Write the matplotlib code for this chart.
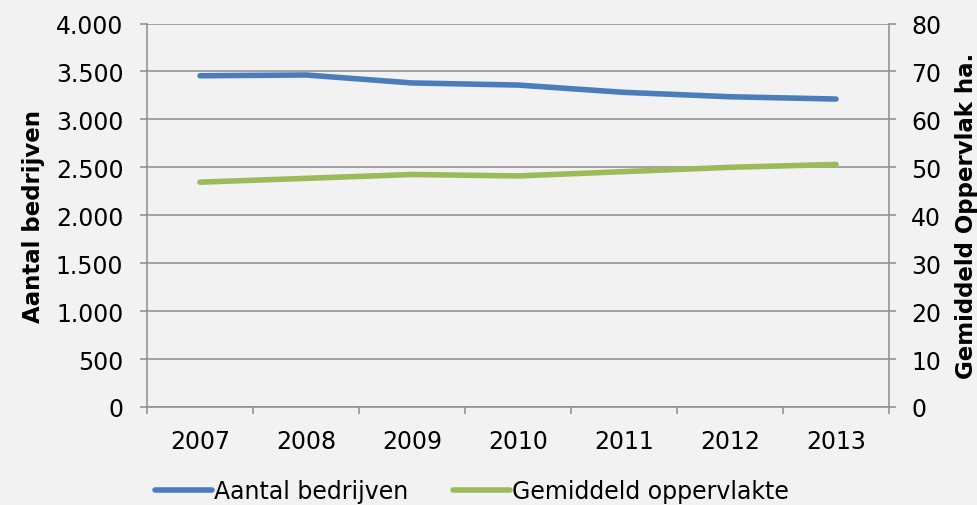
import matplotlib
matplotlib.use('Agg')
import matplotlib.pyplot as plt
from matplotlib.ticker import FuncFormatter, FixedLocator

# data
jaren = ['2007', '2008', '2009', '2010', '2011', '2012', '2013']
aantal_bedrijven = [3455, 3463, 3380, 3358, 3282, 3236, 3212]
gem_oppervlakte = [46.9, 47.7, 48.5, 48.2, 49.1, 50.0, 50.6]

blauw = '#4a7ebb'
groen = '#9bbb59'
grijs = '#8c8c8c'
achtergrond = '#f2f2f2'

plt.rcParams['font.family'] = ['DejaVu Sans']

fig = plt.figure(figsize=(9.78, 5.06), dpi=100, facecolor=achtergrond)
ax = fig.add_axes([147/978, 1 - 408/506, (889 - 147)/978, (408 - 24.5)/506])
ax.set_facecolor(achtergrond)
ax2 = ax.twinx()

x = list(range(len(jaren)))

l1, = ax.plot(x, aantal_bedrijven, color=blauw, lw=4, solid_capstyle='round',
              solid_joinstyle='round', label='Aantal bedrijven', zorder=3)
l2, = ax2.plot(x, gem_oppervlakte, color=groen, lw=4, solid_capstyle='round',
               solid_joinstyle='round', label='Gemiddeld oppervlakte', zorder=3)

# linker as
ax.set_ylim(0, 4000)
ax.set_yticks(range(0, 4001, 500))
ax.yaxis.set_major_formatter(FuncFormatter(lambda v, p: f'{int(v):,}'.replace(',', '.')))
ax.grid(axis='y', color=grijs, lw=1.1)
ax.set_axisbelow(True)
ax.set_ylabel('Aantal bedrijven', fontsize=16.5, fontweight='bold', labelpad=8)

# rechter as
ax2.set_ylim(0, 80)
ax2.set_yticks(range(0, 81, 10))
ax2.set_ylabel('Gemiddeld Oppervlak ha.', fontsize=16.5, fontweight='bold', labelpad=10)

# categorie-as
ax.set_xlim(-0.5, len(jaren) - 0.5)
ax.xaxis.set_major_locator(FixedLocator([i - 0.5 for i in range(len(jaren) + 1)]))
ax.xaxis.set_major_formatter(FuncFormatter(lambda v, p: ''))
ax.xaxis.set_minor_locator(FixedLocator(x))
ax.set_xticklabels(jaren, minor=True)
ax.tick_params(axis='x', which='major', length=5, width=1.1, color=grijs)
ax.tick_params(axis='x', which='minor', length=0, pad=16, labelsize=17)
ax.tick_params(axis='y', length=5, width=1.1, color=grijs, pad=12, labelsize=17)
ax2.tick_params(axis='y', length=5, width=1.1, color=grijs, pad=11, labelsize=17)

for a in (ax, ax2):
    for s in a.spines.values():
        s.set_visible(False)
ax.spines['left'].set_visible(True)
ax.spines['left'].set_color(grijs)
ax.spines['left'].set_linewidth(1.1)
ax.spines['bottom'].set_visible(True)
ax.spines['bottom'].set_color(grijs)
ax.spines['bottom'].set_linewidth(1.1)
ax2.spines['right'].set_visible(True)
ax2.spines['right'].set_color(grijs)
ax2.spines['right'].set_linewidth(1.1)

fig.legend(handles=[l1, l2], loc='center', bbox_to_anchor=(472/978, 1 - 492/506),
           ncol=2, frameon=False, fontsize=17, handlelength=2.4, handletextpad=0.1,
           columnspacing=1.9)

fig.savefig('out.png', dpi=100, facecolor=achtergrond)
